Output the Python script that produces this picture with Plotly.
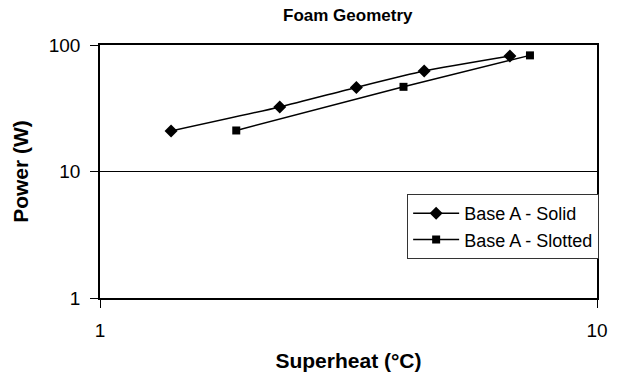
import plotly.graph_objects as go

solid_x = [1.39, 2.30, 3.28, 4.49, 6.68]
solid_y = [20.9, 32.4, 46.2, 62.2, 81.8]
slotted_x = [1.88, 4.08, 7.33]
slotted_y = [21.1, 46.7, 82.8]

FONT = "Liberation Sans, Arial, sans-serif"

fig = go.Figure()
fig.add_trace(go.Scatter(x=solid_x, y=solid_y, mode="lines+markers", name="Base A - Solid",
                         legendgroup="a",
                         line=dict(color="black", width=1.5, shape="spline", smoothing=0.6),
                         marker=dict(symbol="diamond", size=10, color="black")))
fig.add_trace(go.Scatter(x=slotted_x, y=slotted_y, mode="lines+markers", name="Base A - Slotted",
                         legendgroup="b",
                         line=dict(color="black", width=1.5, shape="spline", smoothing=0.6),
                         marker=dict(symbol="square", size=8, color="black")))

fig.update_layout(
    width=621, height=377,
    margin=dict(l=100, r=24, t=45, b=79),
    paper_bgcolor="white", plot_bgcolor="white",
    font=dict(family=FONT, color="black", size=16),
    title=dict(text="<b>Foam Geometry</b>", x=0.56, xanchor="center",
               y=1 - 15 / 377, yanchor="middle", font=dict(size=17, family=FONT)),
    showlegend=True,
    legend=dict(x=0.618, y=0.411, xanchor="left", yanchor="top",
                bgcolor="white", bordercolor="#333", borderwidth=1,
                font=dict(size=18, family=FONT), itemwidth=46,
                traceorder="grouped", tracegroupgap=0),
)
fig.update_xaxes(type="log", range=[0, 1], tickvals=[1, 10], ticktext=["1", "10"],
                 showline=True, linecolor="black", linewidth=1.5, mirror=True,
                 ticks="outside", ticklen=8, tickcolor="black", showgrid=False, zeroline=False,
                 tickfont=dict(size=19), ticklabelstandoff=6, automargin=False,
                 title=dict(text="<b>Superheat (°C)</b>", font=dict(size=21), standoff=14))
fig.update_yaxes(type="log", range=[0, 2], tickvals=[1, 10, 100], ticktext=["1", "10", "100"],
                 showline=True, linecolor="black", linewidth=1.5, mirror=True,
                 ticks="outside", ticklen=8, tickcolor="black",
                 showgrid=True, gridcolor="black", gridwidth=1.2, zeroline=False,
                 tickfont=dict(size=19), ticklabelstandoff=6, automargin=False,
                 title=dict(text="<b>Power (W)</b>", font=dict(size=21), standoff=14))

fig.write_html("out.html")
